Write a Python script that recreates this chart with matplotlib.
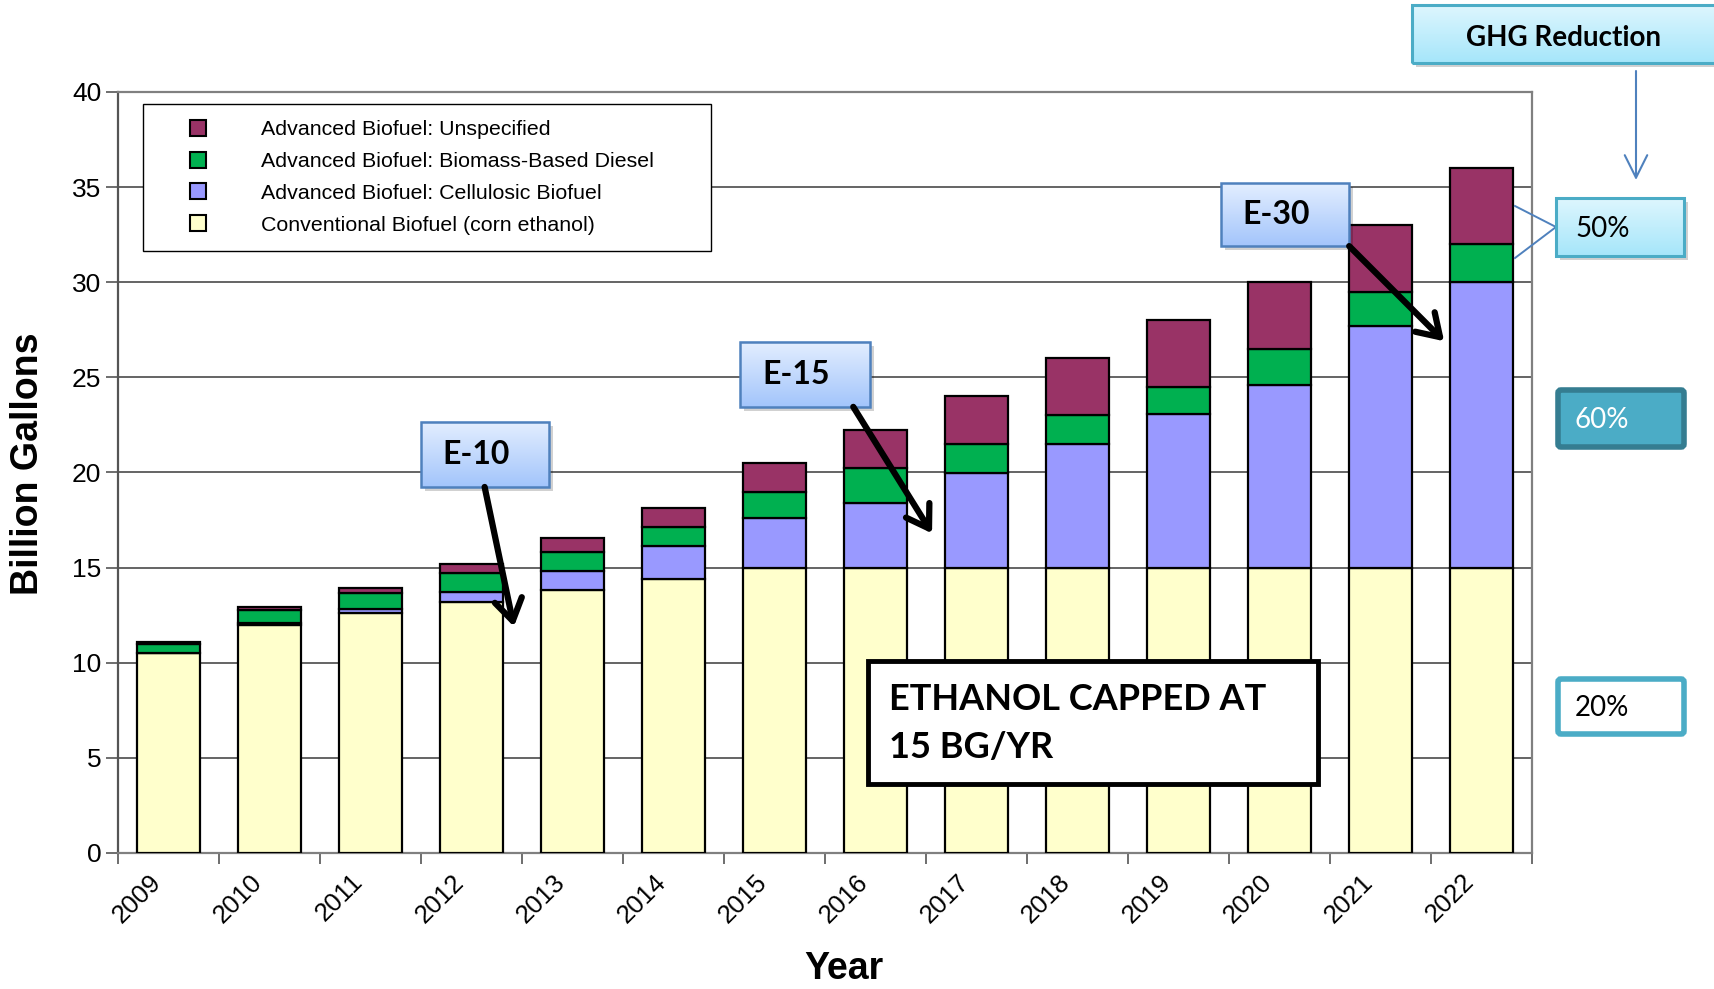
import numpy as np
import matplotlib
matplotlib.use("Agg")
import matplotlib.pyplot as plt
import matplotlib.transforms as mtransforms
from matplotlib.patches import Rectangle, FancyBboxPatch
from matplotlib.lines import Line2D
from matplotlib.colors import LinearSegmentedColormap

# RFS2 volume schedule, billion gallons
years = ["2009", "2010", "2011", "2012", "2013", "2014", "2015",
         "2016", "2017", "2018", "2019", "2020", "2021", "2022"]
conventional = [10.5, 12.0, 12.6, 13.2, 13.8, 14.4, 15.0,
                15.0, 15.0, 15.0, 15.0, 15.0, 15.0, 15.0]
cellulosic = [0.0, 0.1, 0.25, 0.5, 1.0, 1.75, 2.6,
              3.4, 4.95, 6.5, 8.05, 9.6, 12.7, 15.0]
biomass_diesel = [0.5, 0.65, 0.8, 1.0, 1.0, 1.0, 1.4,
                  1.85, 1.55, 1.5, 1.45, 1.9, 1.8, 2.0]
unspecified = [0.1, 0.2, 0.3, 0.5, 0.75, 1.0, 1.5,
               2.0, 2.5, 3.0, 3.5, 3.5, 3.5, 4.0]

series = [
    ("Conventional Biofuel (corn ethanol)", conventional, "#FFFFCC"),
    ("Advanced Biofuel: Cellulosic Biofuel", cellulosic, "#9999FF"),
    ("Advanced Biofuel: Biomass-Based Diesel", biomass_diesel, "#00B050"),
    ("Advanced Biofuel: Unspecified", unspecified, "#993366"),
]
ghg_labels = ["50%", "60%", "20%"]

W, H = 1715, 989
plt.rcParams["font.family"] = ["Liberation Sans", "DejaVu Sans"]
CALLOUT_FONT = ["Lato", "DejaVu Sans"]

fig = plt.figure(figsize=(W / 100, H / 100), dpi=100)
ax = fig.add_axes([118 / W, 1 - 853 / H, (1532 - 118) / W, (853 - 92) / H])

x = np.arange(len(years))
bottom = np.zeros(len(years))
for label, values, color in series:
    ax.bar(x, values, width=0.63, bottom=bottom, color=color,
           edgecolor="black", linewidth=1.6, label=label, zorder=3)
    bottom += np.array(values)

ax.set_xlim(-0.5, len(years) - 0.5)
ax.set_ylim(0, 40)
ax.set_yticks(np.arange(0, 41, 5))
ax.yaxis.grid(True, color="#3a3a3a", linewidth=1.1)
ax.set_axisbelow(True)
for s in ax.spines.values():
    s.set_color("#808080")
    s.set_linewidth(1.6)
ax.spines["left"].set_color("#555555")

ax.set_xticks(x)
ax.set_xticks(np.arange(-0.5, len(years), 1), minor=True)
ax.tick_params(axis="x", which="major", length=0, pad=12)
ax.tick_params(axis="x", which="minor", length=8, color="#555555", width=1.2)
ax.tick_params(axis="y", length=9, color="#555555", width=1.2,
               labelsize=19, pad=3)
ax.set_xticklabels(years, rotation=45, ha="right", va="top",
                   rotation_mode="anchor", fontsize=18.5)
# nudge the slanted year labels left of the category centre
shift = mtransforms.ScaledTranslation(-0.2, 0, fig.dpi_scale_trans)
for lab in ax.get_xticklabels():
    lab.set_transform(lab.get_transform() + shift)

fig.text(28 / W, 1 - 464 / H, "Billion Gallons", rotation=90, ha="center",
         va="center", fontsize=27, fontweight="bold")
fig.text(844 / W, 1 - 969 / H, "Year", ha="center", va="center",
         fontsize=27, fontweight="bold")

# legend, top-most series first
handles = [Line2D([], [], marker="s", linestyle="none", markersize=11,
                  markerfacecolor=c, markeredgecolor="black",
                  markeredgewidth=1.5) for _, _, c in series[::-1]]
leg = ax.legend(handles, [lab for lab, _, _ in series[::-1]],
                loc="upper left", bbox_to_anchor=(0.0177, 0.5, 0.4017, 0.484),
                mode="expand", borderaxespad=0, fontsize=15.4,
                handlelength=3.66, handletextpad=1.1, borderpad=0.75,
                labelspacing=0.6, fancybox=False, framealpha=1,
                edgecolor="black")
leg.get_frame().set_linewidth(1.0)
leg.set_zorder(6)


def gradient_box(a, x0, x1, y_bot, y_top, top, bot, edge, lw, z, shadow):
    cmap = LinearSegmentedColormap.from_list("g", [top, bot])
    grad = np.linspace(0, 1, 64).reshape(-1, 1)
    if shadow is not None:
        dx, dy = shadow
        a.add_patch(Rectangle((x0 + dx, y_bot + dy), x1 - x0, y_top - y_bot,
                              facecolor="#000000", alpha=0.18, linewidth=0,
                              zorder=z - 0.2, clip_on=False))
    im = a.imshow(grad, extent=(x0, x1, y_bot, y_top), origin="upper",
                  cmap=cmap, aspect="auto", zorder=z, interpolation="bilinear")
    im.set_clip_on(False)
    a.add_patch(Rectangle((x0, y_bot), x1 - x0, y_top - y_bot, fill=False,
                          edgecolor=edge, linewidth=lw, zorder=z + 0.1,
                          clip_on=False))


# blend-level callouts, placed in data units
callouts = [
    ("E-10", (2.5, 3.77, 19.24, 22.66), (3.13, 19.24), (3.42, 11.9)),
    ("E-15", (5.66, 6.95, 23.45, 26.87), (6.78, 23.45), (7.56, 16.8)),
    ("E-30", (10.42, 11.69, 31.9, 35.2), (11.69, 31.9), (12.63, 26.9)),
]
for text, (x0, x1, yb, yt), start, tip in callouts:
    gradient_box(ax, x0, x1, yb, yt, "#E3EEFF", "#A3C5FB", "#4F81BD", 1.8,
                 7, (0.04, -0.2))
    ax.text(x0 + 0.17 * (x1 - x0), (yb + yt) / 2, text, fontsize=23,
            fontweight="bold", family=CALLOUT_FONT, ha="left", va="center",
            zorder=8)
    ax.annotate("", xy=tip, xytext=start, zorder=8,
                arrowprops=dict(arrowstyle="->,head_length=0.7,head_width=0.45",
                                lw=4.5, color="black", mutation_scale=22,
                                shrinkA=0, shrinkB=0))

ax.add_patch(Rectangle((6.93, 3.63), 11.38 - 6.93, 10.09 - 3.63,
                       facecolor="white", edgecolor="black", linewidth=3.5,
                       zorder=7))
ax.text(7.13, 6.8, "ETHANOL CAPPED AT\n15 BG/YR", fontsize=26,
        fontweight="bold", family=CALLOUT_FONT, ha="left", va="center",
        linespacing=1.58, zorder=8)

ax.set_xlim(-0.5, len(years) - 0.5)
ax.set_ylim(0, 40)

# GHG reduction panel on the right, in pixel units
ov = fig.add_axes([0, 0, 1, 1], zorder=5)
ov.set_xlim(0, W)
ov.set_ylim(H, 0)
ov.axis("off")

gradient_box(ov, 1412, 1718, 63, 5, "#DDF6FE", "#A6E6FA", "#4BACC6", 2.2,
             3, (4, 4))
ov.text(1564, 38, "GHG Reduction", fontsize=20, fontweight="bold",
        family=CALLOUT_FONT, ha="center", va="center", zorder=4)
ov.annotate("", xy=(1636, 180), xytext=(1636, 71),
            arrowprops=dict(arrowstyle="->,head_length=0.9,head_width=0.45",
                            lw=1.5, color="#4F81BD", mutation_scale=18,
                            shrinkA=0, shrinkB=0))

gradient_box(ov, 1556, 1684, 256, 198, "#DDF6FE", "#A6E6FA", "#4BACC6", 2.2,
             3, (4, 4))
ov.text(1575, 229, ghg_labels[0], fontsize=20, family=CALLOUT_FONT,
        ha="left", va="center", zorder=4)
ov.plot([1515, 1556, 1515], [206, 227, 258], color="#4F81BD", lw=1.4,
        zorder=2)

ov.add_patch(FancyBboxPatch((1558, 390), 126, 57,
                            boxstyle="round,pad=0,rounding_size=3",
                            facecolor="#4BACC6", edgecolor="#357D91",
                            linewidth=4, zorder=3))
ov.text(1575, 420, ghg_labels[1], fontsize=20, family=CALLOUT_FONT,
        color="white", ha="left", va="center", zorder=4)

ov.add_patch(FancyBboxPatch((1558, 679), 126, 55,
                            boxstyle="round,pad=0,rounding_size=3",
                            facecolor="white", edgecolor="#4BACC6",
                            linewidth=4, zorder=3))
ov.text(1575, 708, ghg_labels[2], fontsize=20, family=CALLOUT_FONT,
        ha="left", va="center", zorder=4)

fig.savefig("out.png", dpi=100)
